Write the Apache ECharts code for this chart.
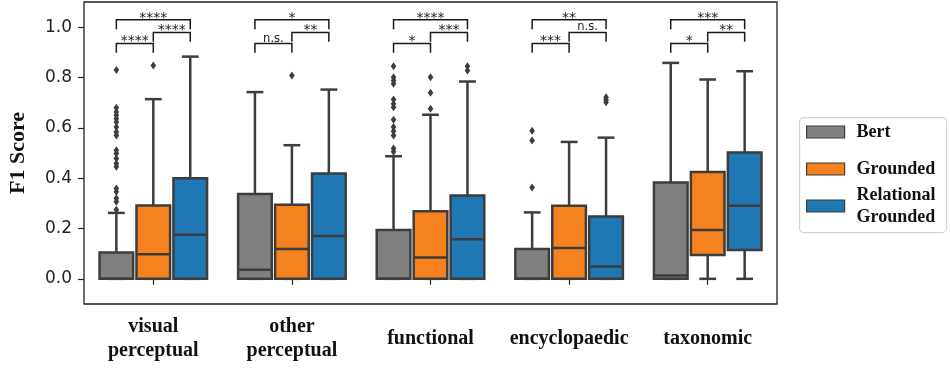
<!DOCTYPE html>
<html>
<head>
<meta charset="utf-8">
<script src="https://cdn.jsdelivr.net/npm/echarts@6/dist/echarts.min.js"></script>
<style>
  html, body { margin: 0; padding: 0; background: #fff; }
  #chart { width: 950px; height: 370px; }
</style>
</head>
<body>
<div id="chart"></div>
<script>
const categories = ['visual\nperceptual', 'other\nperceptual', 'functional', 'encyclopaedic', 'taxonomic'];
const seriesNames = ['Bert', 'Grounded', 'Relational Grounded'];
const yTicks = [0, 0.2, 0.4, 0.6, 0.8, 1.0];

// one row per category: [lower whisker, q1, median, q3, upper whisker]
const bertBoxes = [
  [0, 0, 0, 0.105, 0.262],
  [0, 0, 0.036, 0.337, 0.742],
  [0, 0, 0, 0.194, 0.487],
  [0, 0, 0, 0.119, 0.264],
  [0, 0, 0.013, 0.383, 0.858]
];
const groundedBoxes = [
  [0, 0, 0.098, 0.291, 0.714],
  [0, 0, 0.119, 0.294, 0.531],
  [0, 0, 0.085, 0.269, 0.652],
  [0, 0, 0.123, 0.290, 0.544],
  [0, 0.095, 0.194, 0.425, 0.792]
];
const relGroundedBoxes = [
  [0, 0, 0.175, 0.400, 0.883],
  [0, 0, 0.170, 0.419, 0.752],
  [0, 0, 0.157, 0.331, 0.784],
  [0, 0, 0.049, 0.248, 0.561],
  [0, 0.115, 0.290, 0.502, 0.825]
];

// outliers per category
const bertOutliers = [
  [0.830, 0.680, 0.663, 0.650, 0.636, 0.623, 0.603, 0.583, 0.570, 0.511, 0.498, 0.478, 0.458, 0.445, 0.359, 0.346, 0.320, 0.306, 0.275],
  [],
  [0.845, 0.801, 0.788, 0.775, 0.713, 0.696, 0.682, 0.632, 0.603, 0.586, 0.570, 0.518, 0.505],
  [0.588, 0.550, 0.363],
  []
];
const groundedOutliers = [[0.848], [0.808], [0.801, 0.739, 0.676], [], []];
const relGroundedOutliers = [[], [], [0.845, 0.828], [0.722, 0.712, 0.702], []];

// significance brackets: [category, group a, group b, level, label]
const bracketLevels = [0.935, 0.979, 1.029];
const bracketTick = 0.037;
const brackets = [
  [0, 0, 1, 0, '****'], [0, 1, 2, 1, '****'], [0, 0, 2, 2, '****'],
  [1, 0, 1, 0, 'n.s.'], [1, 1, 2, 1, '**'],   [1, 0, 2, 2, '*'],
  [2, 0, 1, 0, '*'],    [2, 1, 2, 1, '***'],  [2, 0, 2, 2, '****'],
  [3, 0, 1, 0, '***'],  [3, 1, 2, 1, 'n.s.'], [3, 0, 2, 2, '**'],
  [4, 0, 1, 0, '*'],    [4, 1, 2, 1, '**'],   [4, 0, 2, 2, '***']
];

const colors = ['#808080', '#f5821f', '#1f77b4'];
const edgeColor = '#3d3d3d';
const serif = '"Liberation Serif", "DejaVu Serif", serif';

const chart = echarts.init(document.getElementById('chart'), null, { renderer: 'canvas' });

function groupX(api, cat, g) {
  const band = api.size([1, 0])[0];
  return api.coord([cat, 0])[0] + (g - 1) * band * 0.8 / 3;
}

function boxRender(g) {
  return function (params, api) {
    const cat = api.value(0);
    const band = api.size([1, 0])[0];
    const w = band * 0.8 / 3 * 0.91;
    const cx = groupX(api, cat, g);
    const y = k => api.coord([cat, api.value(k)])[1];
    const lo = y(1), q1 = y(2), med = y(3), q3 = y(4), hi = y(5);
    const ls = { stroke: edgeColor, lineWidth: 2.5 };
    return {
      type: 'group',
      children: [
        { type: 'line', shape: { x1: cx, y1: q3, x2: cx, y2: hi }, style: ls },
        { type: 'line', shape: { x1: cx, y1: q1, x2: cx, y2: lo }, style: ls },
        { type: 'line', shape: { x1: cx - w / 4, y1: hi, x2: cx + w / 4, y2: hi }, style: ls },
        { type: 'line', shape: { x1: cx - w / 4, y1: lo, x2: cx + w / 4, y2: lo }, style: ls },
        { type: 'rect', shape: { x: cx - w / 2, y: q3, width: w, height: q1 - q3 },
          style: { fill: colors[g], stroke: edgeColor, lineWidth: 2.5 } },
        { type: 'line', shape: { x1: cx - w / 2, y1: med, x2: cx + w / 2, y2: med }, style: ls }
      ]
    };
  };
}

function outlierRender(g) {
  return function (params, api) {
    const cat = api.value(0);
    const cx = groupX(api, cat, g);
    const cy = api.coord([cat, api.value(1)])[1];
    return {
      type: 'polygon',
      shape: { points: [[cx, cy - 4], [cx + 2.8, cy], [cx, cy + 4], [cx - 2.8, cy]] },
      style: { fill: edgeColor }
    };
  };
}

function bracketRender(params, api) {
  const b = brackets[params.dataIndex];
  const cat = b[0];
  const xa = groupX(api, cat, b[1]);
  const xb = groupX(api, cat, b[2]);
  const yl = api.coord([cat, bracketLevels[b[3]]])[1];
  const yt = api.coord([cat, bracketLevels[b[3]] - bracketTick])[1];
  const isStar = b[4].indexOf('*') >= 0;
  return {
    type: 'group',
    children: [
      { type: 'polyline', shape: { points: [[xa, yt], [xa, yl], [xb, yl], [xb, yt]] },
        style: { stroke: '#1a1a1a', lineWidth: 1.5, fill: null } },
      { type: 'text', x: (xa + xb) / 2, y: yl + (isStar ? 5 : 1),
        style: { text: b[4], fill: '#222', font: (isStar ? 14 : 11.5) + 'px "DejaVu Sans"',
          align: 'center', verticalAlign: 'bottom' } }
    ]
  };
}

const boxSets = [bertBoxes, groundedBoxes, relGroundedBoxes];
const outlierSets = [bertOutliers, groundedOutliers, relGroundedOutliers];

const series = [];
boxSets.forEach((boxes, g) => {
  series.push({
    name: seriesNames[g],
    type: 'custom',
    renderItem: boxRender(g),
    itemStyle: { color: colors[g], borderColor: edgeColor, borderWidth: 1.2 },
    encode: { x: 0, y: [1, 2, 3, 4, 5] },
    data: boxes.map((row, i) => [i].concat(row)),
    z: 3
  });
});
outlierSets.forEach((sets, g) => {
  const pts = [];
  sets.forEach((vals, i) => vals.forEach(v => pts.push([i, v])));
  series.push({
    name: seriesNames[g] + ' outliers',
    type: 'custom',
    renderItem: outlierRender(g),
    encode: { x: 0, y: 1 },
    data: pts,
    z: 4
  });
});
series.push({
  name: 'significance',
  type: 'custom',
  renderItem: bracketRender,
  encode: { x: 0, y: 1 },
  data: brackets.map(b => [b[0], bracketLevels[b[3]]]),
  z: 5
});

const legendBase = {
  orient: 'vertical',
  left: 806,
  padding: 0,
  icon: 'rect',
  itemWidth: 38,
  itemHeight: 12,
  itemStyle: { borderColor: edgeColor, borderWidth: 1.2 },
  textStyle: { fontFamily: serif, fontSize: 18, fontWeight: 'bold', color: '#111', lineHeight: 22, padding: [0, 0, 0, 7] },
  formatter: name => name.replace(' ', '\n'),
  selectedMode: false
};

const option = {
  animation: false,
  backgroundColor: '#fff',
  grid: { left: 84, right: 173, top: 2, bottom: 66, outerBoundsMode: 'none',
    show: true, borderColor: '#222', borderWidth: 1.3 },
  legend: [
    Object.assign({}, legendBase, { data: [seriesNames[0]], top: 121 }),
    Object.assign({}, legendBase, { data: [seriesNames[1]], top: 158 }),
    Object.assign({}, legendBase, { data: [seriesNames[2]], top: 184 })
  ],
  graphic: [{
    type: 'rect', left: 799, top: 117, z: 0,
    shape: { width: 147, height: 115, r: 4 },
    style: { fill: '#fff', stroke: '#d4d4d4', lineWidth: 1.2 }
  }],
  xAxis: {
    type: 'category',
    data: categories,
    boundaryGap: true,
    axisLine: { show: false },
    axisTick: { show: true, alignWithLabel: true, length: 6, lineStyle: { color: '#222', width: 1.2 } },
    axisLabel: { interval: 0, hideOverlap: false, fontFamily: serif, fontSize: 20, fontWeight: 'bold',
      color: '#111', lineHeight: 24, verticalAlign: 'middle', margin: 35 },
    splitLine: { show: false }
  },
  yAxis: {
    type: 'value',
    min: -0.1,
    max: 1.1,
    name: 'F1 Score',
    nameLocation: 'middle',
    nameGap: 55,
    nameTextStyle: { fontFamily: serif, fontSize: 22, fontWeight: 'bold', color: '#111' },
    axisLine: { show: false },
    axisTick: { show: true, length: 6, customValues: yTicks, lineStyle: { color: '#222', width: 1.2 } },
    axisLabel: { fontFamily: '"DejaVu Sans"', fontSize: 17, color: '#222', margin: 12,
      customValues: yTicks, formatter: v => v.toFixed(1) },
    splitLine: { show: false }
  },
  series: series
};

chart.setOption(option);
</script>
</body>
</html>
